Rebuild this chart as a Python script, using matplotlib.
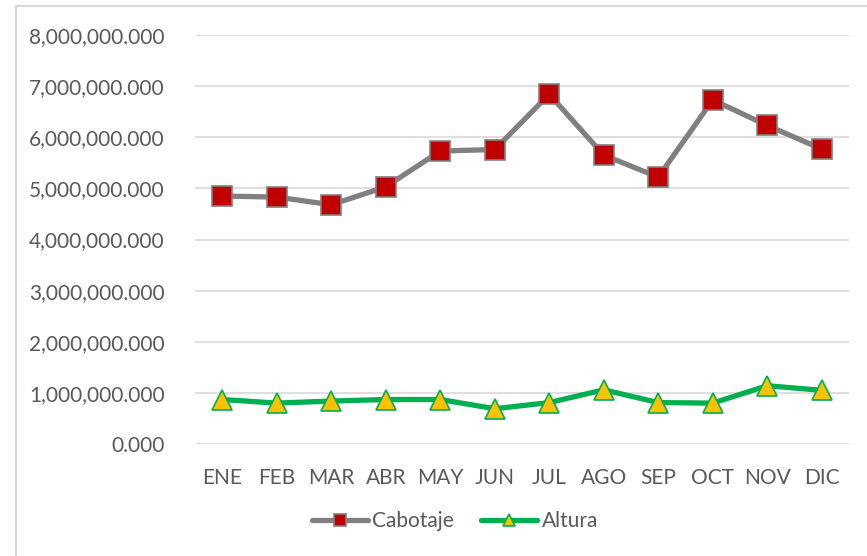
import matplotlib
matplotlib.use("Agg")
import matplotlib.pyplot as plt
from matplotlib.lines import Line2D
from matplotlib.ticker import FuncFormatter

months = ["ENE", "FEB", "MAR", "ABR", "MAY", "JUN", "JUL", "AGO", "SEP", "OCT", "NOV", "DIC"]
cabotaje = [4850000, 4830000, 4680000, 5030000, 5730000, 5760000, 6840000, 5650000, 5220000, 6730000, 6230000, 5770000]
altura = [870000, 800000, 840000, 870000, 870000, 690000, 810000, 1060000, 810000, 800000, 1140000, 1050000]
yticks = [0, 1000000, 2000000, 3000000, 4000000, 5000000, 6000000, 7000000, 8000000]

plt.rcParams['font.family'] = ['Lato', 'DejaVu Sans']

fig = plt.figure(figsize=(8.67, 5.56), dpi=100)
ax = fig.add_axes([195/867, 1-444/556, 654/867, 409/556])

# chart-area border (only left and top visible in reference)
bx, by = 15.5/867, 1 - 5.5/556
fig.lines.append(Line2D([bx, bx], [0, by], transform=fig.transFigure, color="#D9D9D9", lw=1.5))
fig.lines.append(Line2D([bx, 1], [by, by], transform=fig.transFigure, color="#D9D9D9", lw=1.5))

x = list(range(len(months)))
ax.plot(x, cabotaje, color="#808080", lw=3.8, marker="s", markersize=14,
        markerfacecolor="#C00000", markeredgecolor="#808080", markeredgewidth=1.2,
        label="Cabotaje", zorder=3, solid_capstyle="round")
ax.plot(x, altura, color="#00B050", lw=3.8, marker="^", markersize=15,
        markerfacecolor="#FFC000", markeredgecolor="#00B050", markeredgewidth=1.2,
        label="Altura", zorder=3, solid_capstyle="round")

ax.set_xlim(-0.5, 11.5)
ax.set_ylim(0, 8000000)
ax.set_yticks(yticks)
ax.yaxis.set_major_formatter(FuncFormatter(lambda v, p: f"{v:,.3f}"))
ax.set_xticks(x)
ax.set_xticklabels(months)
ax.grid(axis="y", color="#D9D9D9", lw=1.2)
ax.set_axisbelow(True)
for s in ax.spines.values():
    s.set_visible(False)
ax.tick_params(length=0, labelsize=15, colors="#595959")
ax.tick_params(axis="y", pad=22)
ax.tick_params(axis="x", pad=17)

leg = fig.legend(loc="center", bbox_to_anchor=(455/867, 1-521/556), ncol=2, frameon=False,
                 fontsize=15, handlelength=2.7, columnspacing=1.3, handletextpad=0.2, markerscale=0.6)
for t in leg.get_texts():
    t.set_color("#595959")

fig.savefig("out.png", dpi=100)
